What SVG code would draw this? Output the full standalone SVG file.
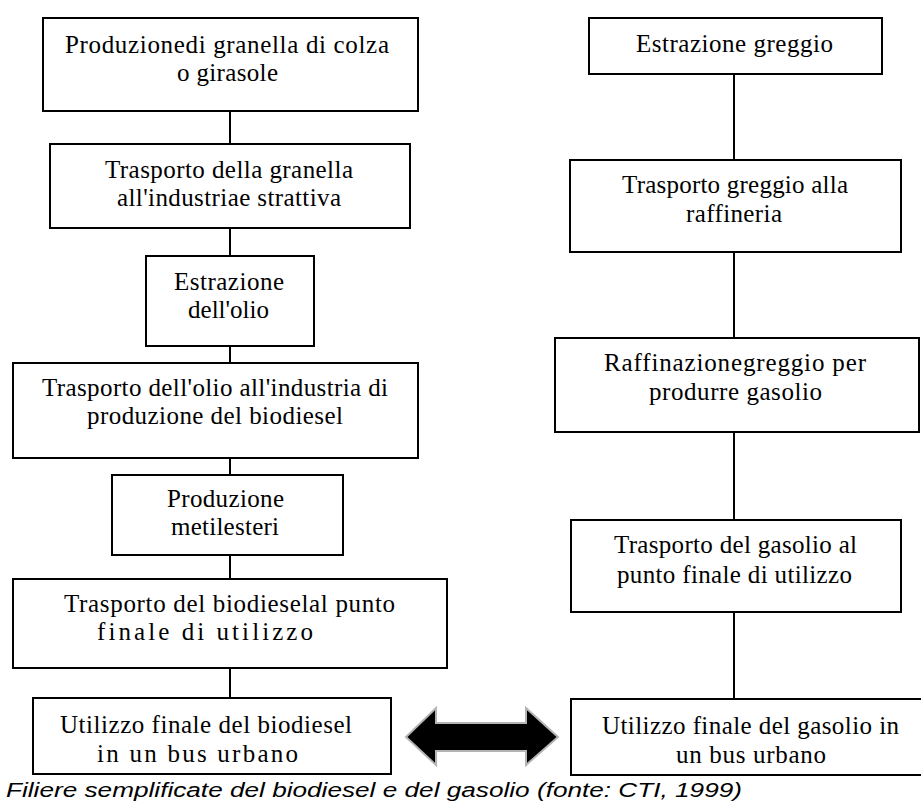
<svg xmlns="http://www.w3.org/2000/svg" width="921" height="805" viewBox="0 0 921 805">
  <style>
    .box { fill: #ffffff; stroke: #000000; stroke-width: 2; }
    .lbl { font-family: "Liberation Serif", "Times New Roman", serif; font-size: 25px; fill: #000000; }
    .link { stroke: #000000; stroke-width: 2; fill: none; }
    .cap { font-family: "Liberation Sans", Arial, sans-serif; font-size: 20px; font-style: italic; fill: #000000; }
  </style>
  <rect width="921" height="805" fill="#ffffff"/>

  <!-- vertical links between steps -->
  <g id="connectors">
    <line class="link" x1="230" y1="111" x2="230" y2="144"/>
    <line class="link" x1="230" y1="228" x2="230" y2="256"/>
    <line class="link" x1="230" y1="346" x2="230" y2="363"/>
    <line class="link" x1="230" y1="458" x2="230" y2="475"/>
    <line class="link" x1="230" y1="555" x2="230" y2="579"/>
    <line class="link" x1="230" y1="668" x2="230" y2="698"/>
    <line class="link" x1="734" y1="74" x2="734" y2="160"/>
    <line class="link" x1="734" y1="252" x2="734" y2="338"/>
    <line class="link" x1="734" y1="432" x2="734" y2="520"/>
    <line class="link" x1="734" y1="612" x2="734" y2="699"/>
  </g>

  <!-- biodiesel chain -->
  <g id="b1">
    <rect class="box" x="43" y="18" width="375" height="93"/>
    <text class="lbl" x="65" y="53" textLength="324" lengthAdjust="spacing">Produzionedi granella di colza</text>
    <text class="lbl" x="177" y="81" textLength="101" lengthAdjust="spacing">o girasole</text>
  </g>
  <g id="b2">
    <rect class="box" x="50" y="144" width="360" height="84"/>
    <text class="lbl" x="105" y="178" textLength="248" lengthAdjust="spacing">Trasporto della granella</text>
    <text class="lbl" x="117" y="206" textLength="224" lengthAdjust="spacing">all'industriae strattiva</text>
  </g>
  <g id="b3">
    <rect class="box" x="146" y="256" width="168" height="90"/>
    <text class="lbl" x="174" y="290" textLength="110" lengthAdjust="spacing">Estrazione</text>
    <text class="lbl" x="188" y="318" textLength="81" lengthAdjust="spacing">dell'olio</text>
  </g>
  <g id="b4">
    <rect class="box" x="13" y="363" width="405" height="95"/>
    <text class="lbl" x="42" y="396" textLength="346" lengthAdjust="spacing">Trasporto dell'olio all'industria di</text>
    <text class="lbl" x="87" y="424" textLength="256" lengthAdjust="spacing">produzione del biodiesel</text>
  </g>
  <g id="b5">
    <rect class="box" x="112" y="475" width="231" height="80"/>
    <text class="lbl" x="167" y="507" textLength="117" lengthAdjust="spacing">Produzione</text>
    <text class="lbl" x="171" y="535" textLength="108" lengthAdjust="spacing">metilesteri</text>
  </g>
  <g id="b6">
    <rect class="box" x="13" y="579" width="434" height="89"/>
    <text class="lbl" x="64" y="612" textLength="331" lengthAdjust="spacing">Trasporto del biodieselal punto</text>
    <text class="lbl" x="97" y="640" textLength="216" lengthAdjust="spacing">finale di utilizzo</text>
  </g>
  <g id="b7">
    <rect class="box" x="33" y="698" width="358" height="76"/>
    <text class="lbl" x="60" y="733" textLength="292" lengthAdjust="spacing">Utilizzo finale del biodiesel</text>
    <text class="lbl" x="97" y="762" textLength="201" lengthAdjust="spacing">in un bus urbano</text>
  </g>

  <!-- diesel chain -->
  <g id="g1">
    <rect class="box" x="589" y="18" width="293" height="56"/>
    <text class="lbl" x="636" y="52" textLength="197" lengthAdjust="spacing">Estrazione greggio</text>
  </g>
  <g id="g2">
    <rect class="box" x="570" y="160" width="331" height="92"/>
    <text class="lbl" x="622" y="193" textLength="226" lengthAdjust="spacing">Trasporto greggio alla</text>
    <text class="lbl" x="686" y="222" textLength="96" lengthAdjust="spacing">raffineria</text>
  </g>
  <g id="g3">
    <rect class="box" x="555" y="338" width="364" height="94"/>
    <text class="lbl" x="604" y="371" textLength="262" lengthAdjust="spacing">Raffinazionegreggio per</text>
    <text class="lbl" x="649" y="400" textLength="173" lengthAdjust="spacing">produrre gasolio</text>
  </g>
  <g id="g4">
    <rect class="box" x="571" y="520" width="330" height="92"/>
    <text class="lbl" x="614" y="553" textLength="243" lengthAdjust="spacing">Trasporto del gasolio al</text>
    <text class="lbl" x="617" y="583" textLength="235" lengthAdjust="spacing">punto finale di utilizzo</text>
  </g>
  <g id="g5">
    <rect class="box" x="571" y="699" width="360" height="76"/>
    <text class="lbl" x="602" y="734" textLength="297" lengthAdjust="spacing">Utilizzo finale del gasolio in</text>
    <text class="lbl" x="676" y="763" textLength="150" lengthAdjust="spacing">un bus urbano</text>
  </g>

  <!-- double-headed comparison arrow -->
  <g id="compare">
    <polygon points="406,737 436,708 436,723 526,723 526,708 558,737 526,765 526,751 436,751 436,765" fill="#000000" stroke="#b4b4b4" stroke-width="2" stroke-linejoin="miter"/>
  </g>

  <text class="cap" x="6" y="797" textLength="736" lengthAdjust="spacingAndGlyphs">Filiere semplificate del biodiesel e del gasolio (fonte: CTI, 1999)</text>
</svg>
